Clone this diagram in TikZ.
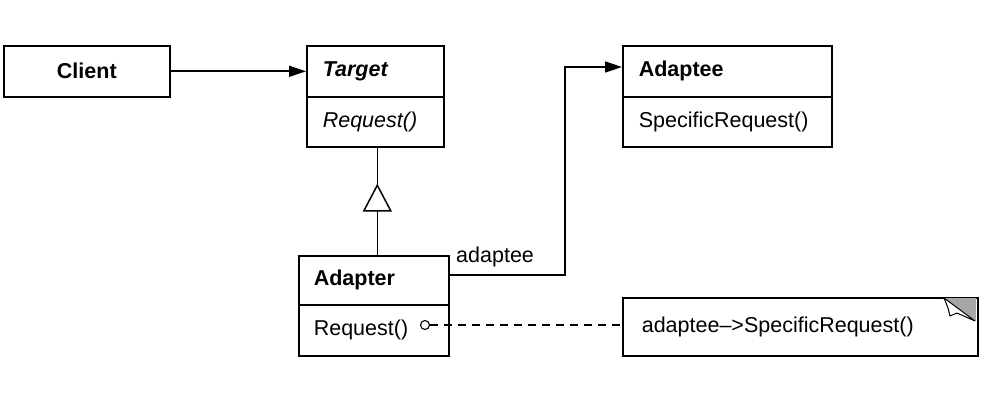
\documentclass[tikz,border=0pt]{standalone}
\usepackage{fontspec}
\setmainfont{Liberation Sans}
\usetikzlibrary{arrows.meta,calc}
\begin{document}
\begin{tikzpicture}[x=1pt,y=-1pt,
  umlbox/.style={draw,line width=1.6pt,anchor=north west,inner ysep=0pt,inner xsep=16pt,
    align=left,font=\fontsize{21.5}{25}\selectfont},
  conn/.style={line width=1.6pt},
  assoc/.style={conn,-{Triangle[length=17pt,width=11pt]}},
  inherit/.style={conn,-{Triangle[open,length=28pt,width=29pt,fill=white,line width=1.5pt]}},
  lbl/.style={font=\fontsize{21.5}{25}\selectfont,inner sep=0pt}]
\useasboundingbox (0,0) rectangle (992,401);
% Client
\node[umlbox,align=center,text width=134pt,minimum height=51pt,font=\fontsize{21.5}{25}\selectfont\bfseries] (client) at (3,45) {Client};
% Target
\node[umlbox,text width=105pt,minimum height=51pt,font=\fontsize{21.5}{25}\selectfont\bfseries\itshape] (targethead) at (306,45) {Target};
\node[umlbox,text width=105pt,minimum height=50pt,font=\fontsize{21.5}{25}\selectfont\itshape] (targetbody) at (306,96) {Request()};
% Adaptee
\node[umlbox,text width=177pt,minimum height=51pt,font=\fontsize{21.5}{25}\selectfont\bfseries] (adapteehead) at (622,45) {Adaptee};
\node[umlbox,text width=177pt,minimum height=50pt] (adapteebody) at (622,96) {SpecificRequest()};
% Adapter
\node[umlbox,text width=120pt,minimum height=49pt,inner xsep=15pt,font=\fontsize{21.5}{25}\selectfont\bfseries] (adapterhead) at (298,255) {Adapter};
\node[umlbox,text width=120pt,minimum height=51pt,inner xsep=15pt] (adapterbody) at (298,304) {Request()};
% Note
\node[umlbox,text width=317pt,minimum height=58pt,inner xsep=19pt] (note) at (622,297) {adaptee--{>}SpecificRequest()};
\fill[gray!70] (944,298) -- (976,298) -- (976,321) -- cycle;
\draw[line width=1pt,fill=white,line join=round] (944,298) -- (948,308) -- (950,316) -- (957,313) -- (975,321) -- cycle;
% connectors
\draw[assoc] (client) -- (targethead);
\coordinate (apex) at ($(targetbody.south)+(2,36)$);
\draw[conn] (targetbody.south -| apex) -- (apex);
\draw[inherit] (adapterhead.north -| apex) -- (apex);
\draw[assoc] (adapterhead.east |- 0,275) -- (565,275) -- (565,67) -- (adapteehead.west |- 0,67);
\node[lbl,anchor=west] (lab) at (456,257) {adaptee};
\node[circle,draw,line width=1.1pt,minimum size=9pt,inner sep=0pt,fill=white] (dot) at (425,325) {};
\draw[conn,dash pattern=on 8pt off 6pt] (dot.east) -- (note.west |- dot.east);
\end{tikzpicture}
\end{document}
